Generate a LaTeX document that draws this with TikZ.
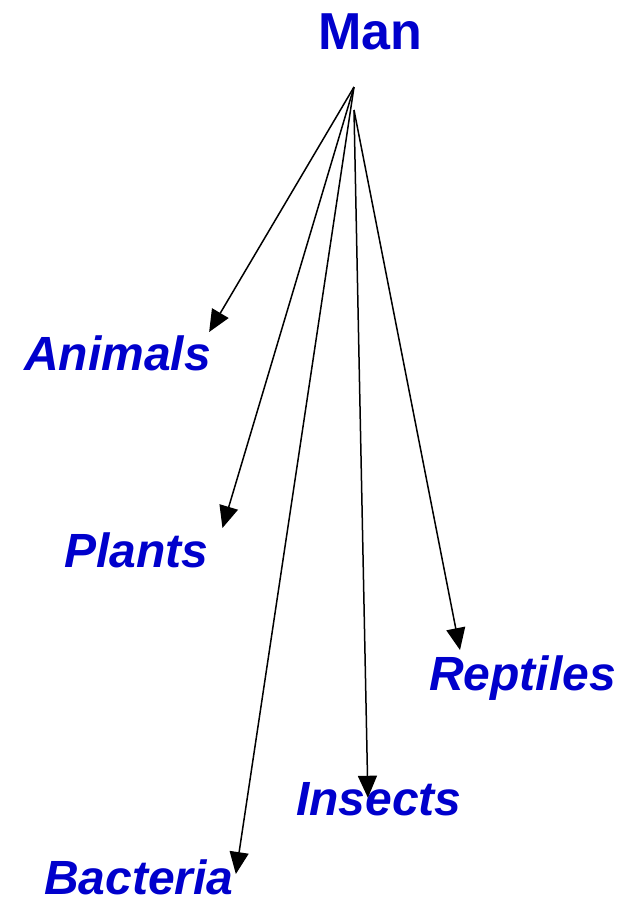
\documentclass[tikz,border=0pt]{standalone}
\usepackage{fontspec}
\setmainfont{Liberation Sans}
\usetikzlibrary{arrows.meta}
\definecolor{labelblue}{RGB}{0,0,204}
\begin{document}
\begin{tikzpicture}[
  x=1pt, y=-1pt,
  every node/.style={inner sep=0pt, anchor=base west, text=labelblue, font=\bfseries\itshape\fontsize{48}{48}\selectfont},
  arrow/.style={-{Triangle[length=22pt, width=19pt]}, line width=1.5pt}
]
\useasboundingbox (0,0) rectangle (625,900);
\node (man) [font=\bfseries\fontsize{52}{52}\selectfont] at (318,49) {Man};
\node (animals) at (24,370) {Animals};
\node (plants) at (64,567) {Plants};
\node (reptiles) at (429,690) {Reptiles};
\node (insects) at (296,815) {Insects};
\node (bacteria) at (44,894) {Bacteria};
\coordinate (top) at (354,87);
\coordinate (mid) at (354,110);
\draw[arrow] (top) -- ([shift={(-2,-3)}]animals.north east);
\draw[arrow] (top) -- ([shift={(14,-4)}]plants.north east);
\draw[arrow] (top) -- ([shift={(2,15)}]bacteria.north east);
\draw[arrow] (mid) -- ([shift={(-11,16)}]insects.north);
\draw[arrow] (mid) -- ([shift={(31,-5)}]reptiles.north west);
\end{tikzpicture}
\end{document}
